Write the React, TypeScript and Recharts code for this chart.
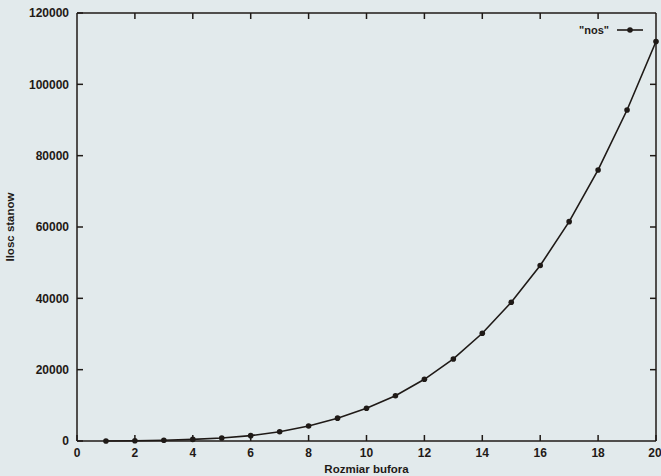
import { LineChart, Line, XAxis, YAxis, Legend, ReferenceLine } from "recharts";

const bufferSizes = [1, 2, 3, 4, 5, 6, 7, 8, 9, 10, 11, 12, 13, 14, 15, 16, 17, 18, 19, 20];
const stateCounts = [
  10, 60, 200, 450, 850, 1500, 2600, 4200, 6400, 9200, 12700, 17300, 23000,
  30200, 38900, 49200, 61500, 76000, 92800, 112000,
];
const xTicks = [0, 2, 4, 6, 8, 10, 12, 14, 16, 18, 20];
const yTicks = [0, 20000, 40000, 60000, 80000, 100000, 120000];

const data = bufferSizes.map((x, i) => ({ x, nos: stateCounts[i] }));

const ink = "#1f1a17";
const paper = "#e2eaec";
const font = "'Liberation Sans', Arial, sans-serif";
const tickLen = 6;

const tickStyle = { fill: ink, fontSize: 12, fontWeight: 700, fontFamily: font };
const labelStyle = { fill: ink, fontSize: 11.5, fontWeight: 700, fontFamily: font };

// gnuplot style dot
const Dot = (props: any) => {
  const { cx, cy } = props;
  if (cx == null || cy == null) return null;
  return <circle cx={cx} cy={cy} r={2.8} fill={ink} />;
};

// mirrored tick on the top border
const TopTick = (props: any) => {
  const { x1, y1, y2 } = props;
  const top = Math.min(y1, y2);
  return <line x1={x1} x2={x1} y1={top} y2={top + tickLen} stroke={ink} strokeWidth={1.5} />;
};

// mirrored tick on the right border
const RightTick = (props: any) => {
  const { x1, x2, y1 } = props;
  const right = Math.max(x1, x2);
  return <line x1={right - tickLen} x2={right} y1={y1} y2={y1} stroke={ink} strokeWidth={1.5} />;
};

const LegendBox = () => (
  <div style={{ display: "flex", alignItems: "center", fontFamily: font, fontSize: 11, fontWeight: 700, color: ink }}>
    <span>"nos"</span>
    <svg width={30} height={10} style={{ marginLeft: 6 }}>
      <line x1={2} y1={5} x2={28} y2={5} stroke={ink} strokeWidth={1.6} />
      <circle cx={15} cy={5} r={2.8} fill={ink} />
    </svg>
  </div>
);

export default function App() {
  return (
    <div style={{ position: "absolute", left: 0, top: 0, width: 661, height: 476, background: paper }}>
      <LineChart width={661} height={476} data={data} margin={{ top: 12, right: 4, bottom: 0, left: 0 }}>
        <XAxis
          dataKey="x"
          type="number"
          domain={[0, 20]}
          ticks={xTicks}
          tickSize={-tickLen}
          tickMargin={13}
          height={35}
          stroke={ink}
          strokeWidth={1.5}
          tick={tickStyle}
          label={{ value: "Rozmiar bufora", position: "insideBottom", offset: 3, style: labelStyle }}
        />
        <XAxis
          xAxisId="top"
          orientation="top"
          type="number"
          domain={[0, 20]}
          height={1}
          tick={false}
          tickLine={false}
          stroke={ink}
          strokeWidth={1.5}
        />
        <YAxis
          type="number"
          domain={[0, 120000]}
          ticks={yTicks}
          tickSize={-tickLen}
          tickMargin={14}
          width={77}
          stroke={ink}
          strokeWidth={1.5}
          tick={tickStyle}
          label={{ value: "Ilosc stanow", angle: -90, position: "insideLeft", offset: 10, style: { ...labelStyle, textAnchor: "middle" } }}
        />
        <YAxis
          yAxisId="right"
          orientation="right"
          type="number"
          domain={[0, 120000]}
          width={1}
          tick={false}
          tickLine={false}
          stroke={ink}
          strokeWidth={1.5}
        />
        {xTicks.slice(1, -1).map((t) => (
          <ReferenceLine key={`xt${t}`} x={t} shape={TopTick} />
        ))}
        {yTicks.slice(1, -1).map((t) => (
          <ReferenceLine key={`yt${t}`} y={t} shape={RightTick} />
        ))}
        <Legend
          layout="vertical"
          verticalAlign="middle"
          align="center"
          content={LegendBox}
          wrapperStyle={{ top: 24, left: 579, width: 80 }}
        />
        <Line
          dataKey="nos"
          stroke={ink}
          strokeWidth={1.6}
          dot={<Dot />}
          activeDot={false}
          isAnimationActive={false}
        />
      </LineChart>
    </div>
  );
}
